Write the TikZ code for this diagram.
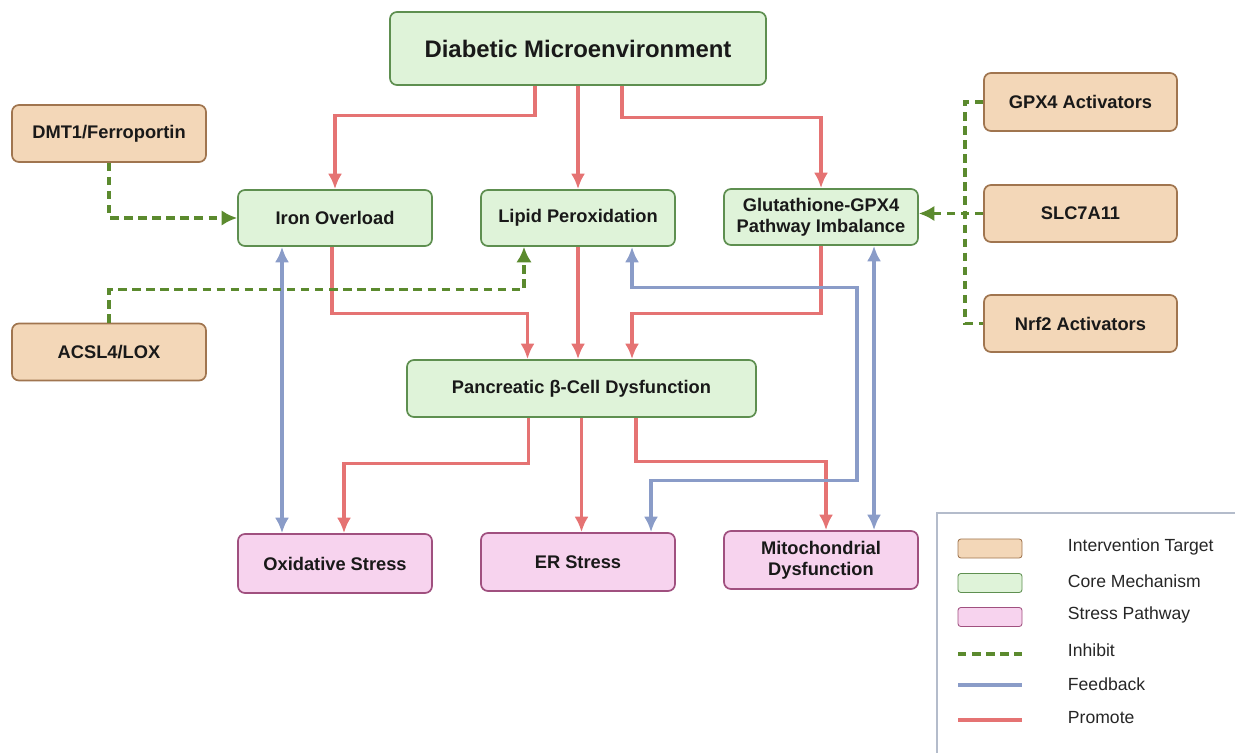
\documentclass[tikz,border=0pt]{standalone}
\usepackage{fontspec}
\setmainfont{Liberation Sans}
\usetikzlibrary{arrows.meta}
\usetikzlibrary{calc}
\definecolor{coreFill}{HTML}{DFF3D9}
\definecolor{coreLine}{HTML}{5E8F50}
\definecolor{targetFill}{HTML}{F3D7B8}
\definecolor{targetLine}{HTML}{A0754F}
\definecolor{stressFill}{HTML}{F7D3EE}
\definecolor{stressLine}{HTML}{A0507F}
\definecolor{promoteCol}{HTML}{E57373}
\definecolor{feedbackCol}{HTML}{8A9CC8}
\definecolor{inhibitCol}{HTML}{5B8A2E}
\definecolor{legendLine}{HTML}{B4BCCB}
\tikzset{box/.style={draw, rounded corners=5pt, line width=1.2pt, align=center,
    font=\bfseries\fontsize{13}{15}\selectfont, text=black!90,
    minimum width=4.85cm, minimum height=1.425cm, inner sep=2pt}}
\tikzset{core/.style={box, fill=coreFill, draw=coreLine}}
\tikzset{target/.style={box, fill=targetFill, draw=targetLine}}
\tikzset{stress/.style={box, fill=stressFill, draw=stressLine}}
\tikzset{promote/.style={-{Latex[length=11pt,width=10pt]}, promoteCol, line width=2.2pt}}
\tikzset{feedback/.style={{Latex[length=11pt,width=10pt]}-{Latex[length=11pt,width=10pt]}, feedbackCol, line width=2.2pt}}
\tikzset{inhibit/.style={-{Latex[length=11pt,width=11pt]}, inhibitCol, line width=2.6pt, dash pattern=on 6pt off 4pt}}
\tikzset{swatch/.style={draw, rounded corners=2pt, line width=.6pt, minimum width=1.6cm, minimum height=.475cm, inner sep=0pt}}
\tikzset{legendText/.style={anchor=west, font=\fontsize{12.5}{14}\selectfont, text=black!85}}

\begin{document}
\begin{tikzpicture}[x=0.025cm,y=-0.025cm]
        \useasboundingbox (0,0) rectangle (1235,753);

        % core mechanisms
        \node[core, minimum width=9.4cm, minimum height=1.825cm, font=\bfseries\fontsize{17}{19}\selectfont] (DM) at (578,48.5) {Diabetic Microenvironment};
        \node[core, minimum height=1.4cm] (Iron) at (335,218) {Iron Overload};
        \node[core, minimum height=1.4cm] (Lipid) at (578,218) {Lipid Peroxidation};
        \node[core, minimum height=1.4cm] (GPX) at (821,217) {Glutathione-GPX4\\Pathway Imbalance};
        \node[core, minimum width=8.725cm] (Panc) at (581.5,388.5) {Pancreatic β-Cell Dysfunction};

        % intervention targets
        \node[target] (DMT1) at (109,133.5) {DMT1/Ferroportin};
        \node[target] (ACSL4) at (109,352) {ACSL4/LOX};
        \node[target, minimum width=4.825cm, minimum height=1.45cm] (GPX4act) at (1080.5,102) {GPX4 Activators};
        \node[target, minimum width=4.825cm] (SLC) at (1080.5,213.5) {SLC7A11};
        \node[target, minimum width=4.825cm] (Nrf2) at (1080.5,323.5) {Nrf2 Activators};

        % stress pathways
        \node[stress, minimum height=1.475cm] (Ox) at (335,563.5) {Oxidative Stress};
        \node[stress, minimum height=1.45cm] (ER) at (578,562) {ER Stress};
        \node[stress, minimum height=1.45cm] (Mito) at (821,560) {Mitochondrial\\Dysfunction};

        % promote
        \draw[promote] ($(DM.south)+(-43,0)$) -- ++(0,30) -| (Iron.north);
        \draw[promote] (DM.south) -- (DM.south |- Lipid.north);
        \draw[promote] ($(DM.south)+(44,0)$) -- ++(0,32) -| (GPX.north);
        \draw[promote] ($(Iron.south)+(-3,0)$) -- ++(0,67) -| ($(Panc.north)+(-54,0)$);
        \draw[promote] (Lipid.south) -- (Lipid.south |- Panc.north);
        \draw[promote] (GPX.south) -- ++(0,68) -| ($(Panc.north)+(50.5,0)$);
        \draw[promote] ($(Panc.south)+(-53,0)$) -- ++(0,46) -| ($(Ox.north)+(9,0)$);
        \draw[promote] (Panc.south) -- (Panc.south |- ER.north);
        \draw[promote] ($(Panc.south)+(54.5,0)$) -- ++(0,44) -| ($(Mito.north)+(5,0)$);

        % feedback
        \draw[feedback] ($(Iron.south)+(-53,0)$) -- ($(Ox.north)+(-53,0)$);
        \draw[feedback] ($(Lipid.south)+(54,0)$) -- ++(0,41) -- ++(225,0) -- ++(0,193) -| ($(ER.north)+(73,0)$);
        \draw[feedback] ($(GPX.south)+(53,0)$) -- ($(Mito.north)+(53,0)$);

        % inhibit
        \draw[inhibit] (DMT1.south) |- (Iron.west);
        \draw[inhibit] (ACSL4.north) -- ++(0,-33) -| ($(Lipid.south)+(-54,0)$);
        \draw[inhibit, -] (GPX4act.west) -- ++(-18,0) |- (Nrf2.west);
        \draw[inhibit] (SLC.west) -- (SLC.west -| GPX.east);

        % legend
        \draw[legendLine, line width=.8pt] (937,753) -- (937,513) -- (1235,513);
        \node[swatch, fill=targetFill, draw=targetLine] (lgTarget) at (990,548.5) {};
        \node[swatch, fill=coreFill, draw=coreLine] (lgCore) at (990,583) {};
        \node[swatch, fill=stressFill, draw=stressLine] (lgStress) at (990,617) {};
        \draw[inhibit, -] (958,654) -- (1022,654);
        \draw[feedbackCol, line width=2.2pt] (958,685) -- (1022,685);
        \draw[promoteCol, line width=2.2pt] (958,720) -- (1022,720);
        \node[legendText] (lgTargetText) at (1063,547) {Intervention Target};
        \node[legendText] (lgCoreText) at (1063,581) {Core Mechanism};
        \node[legendText] (lgStressText) at (1063,615) {Stress Pathway};
        \node[legendText] (lgInhibitText) at (1063,650) {Inhibit};
        \node[legendText] (lgFeedbackText) at (1063,684) {Feedback};
        \node[legendText] (lgPromoteText) at (1063,718) {Promote};
    \end{tikzpicture}
\end{document}
